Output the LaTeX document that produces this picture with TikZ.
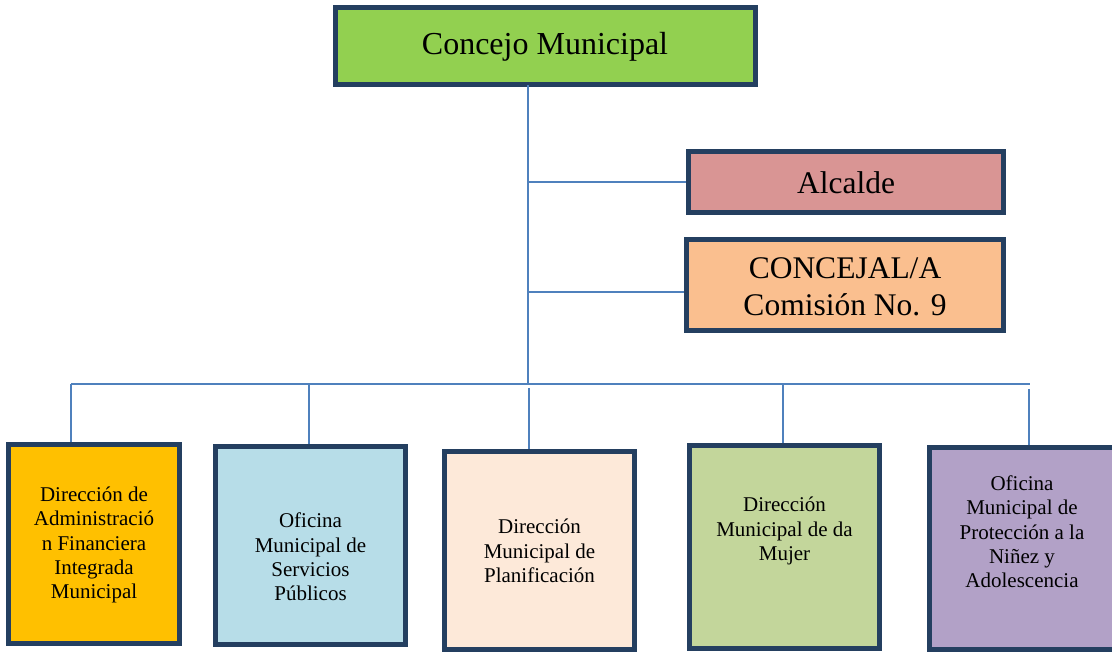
\documentclass[tikz,border=0pt]{standalone}
\usepackage{fontspec}
\setmainfont{Liberation Serif}
\definecolor{navy}{HTML}{243F60}
\definecolor{linkblue}{HTML}{4F81BD}
\definecolor{cgreen}{HTML}{92D050}
\definecolor{crose}{HTML}{D99594}
\definecolor{corange}{HTML}{FABF8F}
\definecolor{cgold}{HTML}{FFC000}
\definecolor{ccyan}{HTML}{B7DDE8}
\definecolor{cpeach}{HTML}{FDE9D9}
\definecolor{colive}{HTML}{C3D69B}
\definecolor{clilac}{HTML}{B2A1C7}
\tikzset{
  orgbox/.style={draw=navy, line width=5pt, rectangle, inner sep=0pt},
  bigtxt/.style={font=\fontsize{31.5}{36.5}\selectfont, align=center, inner sep=0pt},
  smalltxt/.style={font=\fontsize{21}{24.3}\selectfont, align=center, inner sep=0pt},
  link/.style={draw=linkblue, line width=1.8pt}
}
\begin{document}
\begin{tikzpicture}[x=1pt,y=-1pt]
\useasboundingbox (0,0) rectangle (1112,652);
% boxes
\node[orgbox, fill=cgreen, minimum width=420pt, minimum height=77pt] (concejo) at (545.5,46) {};
\node[bigtxt, font=\fontsize{32}{36}\selectfont] (concejoT) at (545,47) {Concejo Municipal};
\node[orgbox, fill=crose, minimum width=315pt, minimum height=61pt] (alcalde) at (846,182) {};
\node[bigtxt] (alcaldeT) at (846,183) {Alcalde};
\node[orgbox, fill=corange, minimum width=317pt, minimum height=91pt] (concejal) at (845,285) {};
\node[bigtxt] (concejalT) at (845,287) {CONCEJAL/A\\Comisión No. 9};

\node[orgbox, fill=cgold, minimum width=171pt, minimum height=199pt] (b1) at (94,544) {};
\node[smalltxt] (b1T) at (94,545) {Dirección de\\Administració\\n Financiera\\Integrada\\Municipal};
\node[orgbox, fill=ccyan, minimum width=190pt, minimum height=198pt] (b2) at (310.5,545.5) {};
\node[smalltxt] (b2T) at (310.5,557) {Oficina\\Municipal de\\Servicios\\Públicos};
\node[orgbox, fill=cpeach, minimum width=190pt, minimum height=198pt] (b3) at (539.5,550.5) {};
\node[smalltxt] (b3T) at (539.5,551) {Dirección\\Municipal de\\Planificación};
\node[orgbox, fill=colive, minimum width=190pt, minimum height=203pt] (b4) at (784.5,547) {};
\node[smalltxt] (b4T) at (784.5,531) {Dirección\\Municipal de da\\Mujer};
\node[orgbox, fill=clilac, minimum width=192pt, minimum height=202pt] (b5) at (1025.5,548.5) {};
\node[smalltxt] (b5T) at (1022,532) {Oficina\\Municipal de\\Protección a la\\Niñez y\\Adolescencia};

% connectors
\coordinate (top) at (528,85);
\coordinate (junc) at (528,384);
\coordinate (busL) at (71,384);
\coordinate (busR) at (1030,384);
\coordinate (ja) at (528,182);
\coordinate (jc) at (528,292);
\draw[link] (top) -- (junc);
\draw[link] (ja) -- (ja -| alcalde.west);
\draw[link] (jc) -- (jc -| concejal.west);
\draw[link] (busL) -- (busR);
\draw[link] (busL) -- (busL |- b1.north);
\coordinate (d2) at (309,384);
\draw[link] (d2) -- (d2 |- b2.north);
\coordinate (d3) at (529,388);
\draw[link] (d3) -- (d3 |- b3.north);
\coordinate (d4) at (783,384);
\draw[link] (d4) -- (d4 |- b4.north);
\coordinate (d5) at (1029,389);
\draw[link] (d5) -- (d5 |- b5.north);
\end{tikzpicture}
\end{document}
